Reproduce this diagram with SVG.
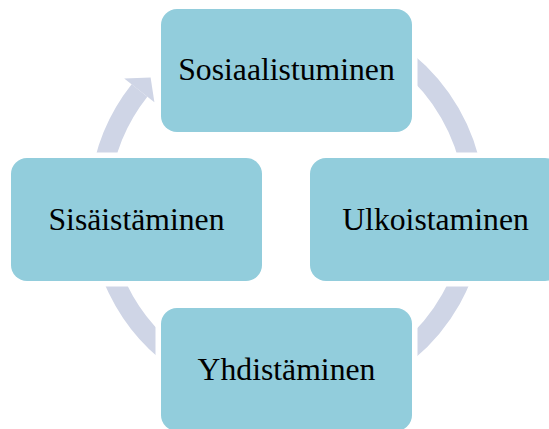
<svg xmlns="http://www.w3.org/2000/svg" width="549" height="429" viewBox="0 0 549 429">
  <style>
    .node rect { fill: #92CDDC; }
    .node text { font-family: "Liberation Serif", "Times New Roman", serif; font-size: 31.7px; fill: #000; text-anchor: middle; }
    .ring { fill: none; stroke: #CFD5E6; stroke-width: 20; }
    .head { fill: #CFD5E6; }
  </style>
  <defs>
    <!-- keeps the cycle ring clear of the node boxes with a small margin -->
    <mask id="ringGaps" maskUnits="userSpaceOnUse" x="0" y="0" width="549" height="429">
      <rect x="0" y="0" width="549" height="429" fill="#fff"/>
      <rect x="155.5" y="3.5" width="262" height="134" rx="21" fill="#000"/>
      <rect x="5.5" y="152.5" width="262" height="134" rx="21" fill="#000"/>
      <rect x="304.5" y="152.5" width="262" height="134" rx="21" fill="#000"/>
      <rect x="155.5" y="302.5" width="262" height="134" rx="21" fill="#000"/>
    </mask>
  </defs>
  <rect width="549" height="429" fill="#fff"/>

  <g id="connectors">
    <path class="ring" mask="url(#ringGaps)" d="M 351.3 30.3 A 188 188 0 0 1 287 395 A 188 188 0 0 1 139.5 90.5"/>
    <polygon class="head" points="124.2,78.4 150.6,77.6 154.4,102.3"/>
  </g>

  <g id="sosiaalistuminen" class="node">
    <rect x="161" y="9" width="251" height="123" rx="16"/>
    <text x="286.5" y="80">Sosiaalistuminen</text>
  </g>
  <g id="ulkoistaminen" class="node">
    <rect x="310" y="158" width="251" height="123" rx="16"/>
    <text x="435.5" y="230">Ulkoistaminen</text>
  </g>
  <g id="yhdistaminen" class="node">
    <rect x="161" y="308" width="251" height="123" rx="16"/>
    <text x="286.5" y="380">Yhdistäminen</text>
  </g>
  <g id="sisaistaminen" class="node">
    <rect x="11" y="158" width="251" height="123" rx="16"/>
    <text x="136.5" y="230">Sisäistäminen</text>
  </g>
</svg>
